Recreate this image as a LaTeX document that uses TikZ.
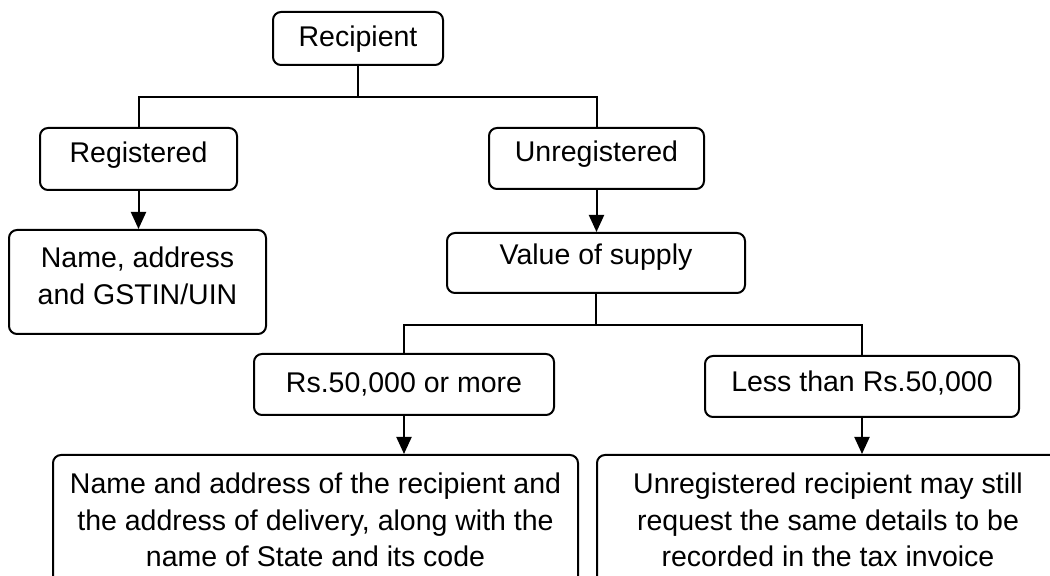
\documentclass[tikz,border=0pt]{standalone}
\usepackage{fontspec}
\setmainfont{Liberation Sans}
\usetikzlibrary{arrows.meta}

\begin{document}
\begin{tikzpicture}[x=0.5pt, y=-0.5pt,
  bx/.style={draw, line width=1pt, rounded corners=4pt, inner sep=0pt, align=center, font=\fontsize{14.25}{18.35}\selectfont, text height=17.5pt, text depth=12.5pt},
  tall/.style={draw, line width=1pt, rounded corners=4pt, inner sep=0pt, align=center, font=\fontsize{14.25}{18.35}\selectfont},
  ln/.style={line width=1pt},
  arr/.style={ln, -{Triangle[length=8.5pt, width=7.5pt]}}]
  \clip (0,0) rectangle (1050,576);
  % ---------------- recipient and its two kinds
  \node[bx, minimum width=85pt, text depth=9pt] (rec) at (358,38.5) {Recipient};
  \node[bx, minimum width=98.5pt, text depth=13.5pt] (reg) at (138.5,159) {Registered};
  \node[bx, minimum width=107.5pt, text height=17pt, text depth=13.5pt] (unreg) at (596.5,158.5) {Unregistered};
  \draw[ln] (rec.south) -- ++(0,31) coordinate (split1);
  \draw[ln] (reg.north) |- (split1) -| (unreg.north);
  % ---------------- registered
  \node[tall, minimum width=128.5pt, minimum height=52pt] (regout) at (137.5,282) {Name, address\\and GSTIN/UIN\\[-12pt]};
  \draw[arr] (reg.south) -- (reg.south |- regout.north);
  % ---------------- unregistered
  \node[bx, minimum width=149pt, text height=16pt, text depth=14pt] (val) at (596,263) {Value of supply};
  \draw[arr] (unreg.south) -- (unreg.south |- val.north);
  \node[bx, minimum width=150pt, text height=19.5pt, text depth=11pt] (hi) at (404,384.5) {Rs.50,000 or more};
  \node[bx, minimum width=157pt, text height=18pt, text depth=12.5pt] (lo) at (862,386.5) {Less than Rs.50,000};
  \draw[ln] (val.south) -- ++(0,31) coordinate (split2);
  \draw[ln] (hi.north) |- (split2) -| (lo.north);
  \node[tall, minimum width=262.5pt, minimum height=65pt] (hiout) at (315.5,520) {Name and address of the recipient and\\the address of delivery, along with the\\name of State and its code};
  \node[tall, minimum width=231pt, minimum height=65pt] (loout) at (828,520) {Unregistered recipient may still\\request the same details to be\\recorded in the tax invoice};
  \draw[arr] (hi.south) -- (hi.south |- hiout.north); \draw[arr] (lo.south) -- (lo.south |- loout.north);
\end{tikzpicture}
\end{document}
